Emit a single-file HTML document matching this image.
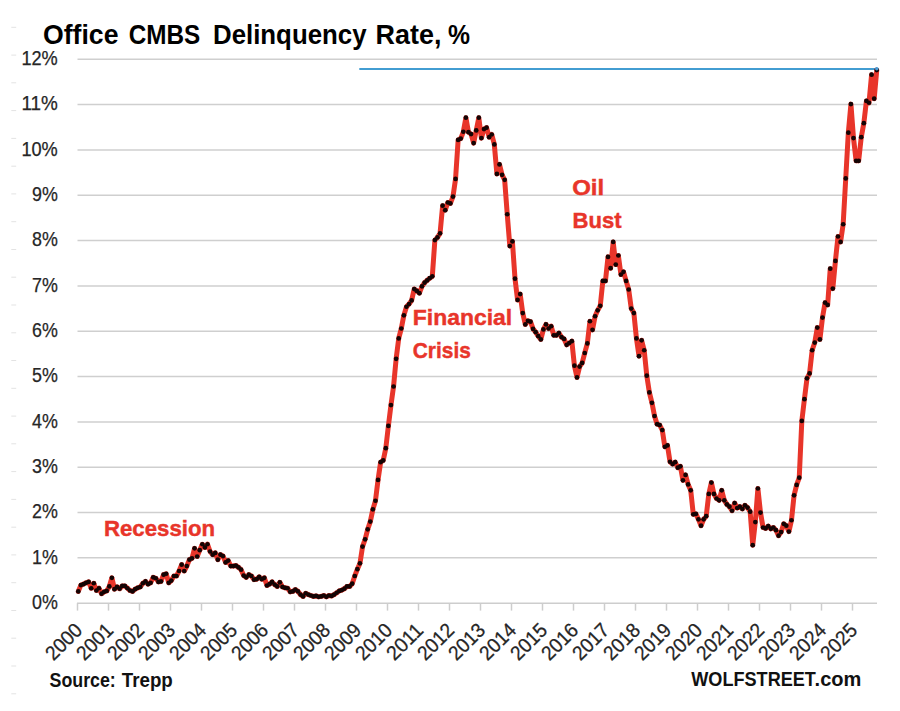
<!DOCTYPE html>
<html><head><meta charset="utf-8"><title>Office CMBS Delinquency Rate</title>
<style>
html,body{margin:0;padding:0;background:#fff;}
body{width:900px;height:711px;overflow:hidden;font-family:"Liberation Sans",sans-serif;}
svg{display:block;}
text{font-family:"Liberation Sans",sans-serif;}
.b{font-weight:bold;}
</style></head><body>
<svg width="900" height="711" viewBox="0 0 900 711">
<rect x="0" y="0" width="900" height="711" fill="#ffffff"/>

<g stroke="#e3e3e3" stroke-width="1">
<line x1="11.3" y1="27.3" x2="16.2" y2="27.3"/>
<line x1="11.3" y1="55.1" x2="16.2" y2="55.1"/>
<line x1="11.3" y1="82.8" x2="16.2" y2="82.8"/>
<line x1="11.3" y1="110.6" x2="16.2" y2="110.6"/>
<line x1="11.3" y1="138.4" x2="16.2" y2="138.4"/>
<line x1="11.3" y1="166.2" x2="16.2" y2="166.2"/>
<line x1="11.3" y1="193.9" x2="16.2" y2="193.9"/>
<line x1="11.3" y1="221.7" x2="16.2" y2="221.7"/>
<line x1="11.3" y1="249.5" x2="16.2" y2="249.5"/>
<line x1="11.3" y1="277.2" x2="16.2" y2="277.2"/>
<line x1="11.3" y1="305.0" x2="16.2" y2="305.0"/>
<line x1="11.3" y1="332.8" x2="16.2" y2="332.8"/>
<line x1="11.3" y1="360.5" x2="16.2" y2="360.5"/>
<line x1="11.3" y1="388.3" x2="16.2" y2="388.3"/>
<line x1="11.3" y1="416.1" x2="16.2" y2="416.1"/>
<line x1="11.3" y1="443.8" x2="16.2" y2="443.8"/>
<line x1="11.3" y1="471.6" x2="16.2" y2="471.6"/>
<line x1="11.3" y1="499.4" x2="16.2" y2="499.4"/>
<line x1="11.3" y1="527.2" x2="16.2" y2="527.2"/>
<line x1="11.3" y1="554.9" x2="16.2" y2="554.9"/>
<line x1="11.3" y1="582.7" x2="16.2" y2="582.7"/>
<line x1="11.3" y1="610.5" x2="16.2" y2="610.5"/>
<line x1="11.3" y1="638.2" x2="16.2" y2="638.2"/>
<line x1="11.3" y1="666.0" x2="16.2" y2="666.0"/>
<line x1="11.3" y1="693.8" x2="16.2" y2="693.8"/>
</g>
<g stroke="#cfcfcf" stroke-width="1.5">
<line x1="77.5" y1="557.87" x2="877" y2="557.87"/>
<line x1="77.5" y1="512.54" x2="877" y2="512.54"/>
<line x1="77.5" y1="467.21" x2="877" y2="467.21"/>
<line x1="77.5" y1="421.88" x2="877" y2="421.88"/>
<line x1="77.5" y1="376.55" x2="877" y2="376.55"/>
<line x1="77.5" y1="331.22" x2="877" y2="331.22"/>
<line x1="77.5" y1="285.89" x2="877" y2="285.89"/>
<line x1="77.5" y1="240.56" x2="877" y2="240.56"/>
<line x1="77.5" y1="195.23" x2="877" y2="195.23"/>
<line x1="77.5" y1="149.90" x2="877" y2="149.90"/>
<line x1="77.5" y1="104.57" x2="877" y2="104.57"/>
<line x1="77.5" y1="59.24" x2="877" y2="59.24"/>
</g>
<g stroke="#cdcdcd" stroke-width="1.5">
<line x1="77" y1="603.20" x2="877" y2="603.20"/>
<line x1="77.5" y1="603.20" x2="77.5" y2="610.6"/>
<line x1="108.5" y1="603.20" x2="108.5" y2="610.6"/>
<line x1="139.5" y1="603.20" x2="139.5" y2="610.6"/>
<line x1="170.5" y1="603.20" x2="170.5" y2="610.6"/>
<line x1="201.5" y1="603.20" x2="201.5" y2="610.6"/>
<line x1="232.5" y1="603.20" x2="232.5" y2="610.6"/>
<line x1="263.5" y1="603.20" x2="263.5" y2="610.6"/>
<line x1="294.5" y1="603.20" x2="294.5" y2="610.6"/>
<line x1="325.5" y1="603.20" x2="325.5" y2="610.6"/>
<line x1="356.5" y1="603.20" x2="356.5" y2="610.6"/>
<line x1="387.5" y1="603.20" x2="387.5" y2="610.6"/>
<line x1="418.5" y1="603.20" x2="418.5" y2="610.6"/>
<line x1="449.5" y1="603.20" x2="449.5" y2="610.6"/>
<line x1="480.5" y1="603.20" x2="480.5" y2="610.6"/>
<line x1="511.5" y1="603.20" x2="511.5" y2="610.6"/>
<line x1="542.5" y1="603.20" x2="542.5" y2="610.6"/>
<line x1="573.5" y1="603.20" x2="573.5" y2="610.6"/>
<line x1="604.5" y1="603.20" x2="604.5" y2="610.6"/>
<line x1="635.5" y1="603.20" x2="635.5" y2="610.6"/>
<line x1="666.5" y1="603.20" x2="666.5" y2="610.6"/>
<line x1="697.5" y1="603.20" x2="697.5" y2="610.6"/>
<line x1="728.5" y1="603.20" x2="728.5" y2="610.6"/>
<line x1="759.5" y1="603.20" x2="759.5" y2="610.6"/>
<line x1="790.5" y1="603.20" x2="790.5" y2="610.6"/>
<line x1="821.5" y1="603.20" x2="821.5" y2="610.6"/>
<line x1="852.5" y1="603.20" x2="852.5" y2="610.6"/>
</g>
<g fill="#262626" font-size="19.6" text-anchor="end" stroke="#262626" stroke-width="0.25">
<text x="57.8" y="608.90" textLength="25.8" lengthAdjust="spacingAndGlyphs">0%</text>
<text x="57.8" y="563.57" textLength="25.8" lengthAdjust="spacingAndGlyphs">1%</text>
<text x="57.8" y="518.24" textLength="25.8" lengthAdjust="spacingAndGlyphs">2%</text>
<text x="57.8" y="472.91" textLength="25.8" lengthAdjust="spacingAndGlyphs">3%</text>
<text x="57.8" y="427.58" textLength="25.8" lengthAdjust="spacingAndGlyphs">4%</text>
<text x="57.8" y="382.25" textLength="25.8" lengthAdjust="spacingAndGlyphs">5%</text>
<text x="57.8" y="336.92" textLength="25.8" lengthAdjust="spacingAndGlyphs">6%</text>
<text x="57.8" y="291.59" textLength="25.8" lengthAdjust="spacingAndGlyphs">7%</text>
<text x="57.8" y="246.26" textLength="25.8" lengthAdjust="spacingAndGlyphs">8%</text>
<text x="57.8" y="200.93" textLength="25.8" lengthAdjust="spacingAndGlyphs">9%</text>
<text x="57.8" y="155.60" textLength="36.4" lengthAdjust="spacingAndGlyphs">10%</text>
<text x="57.8" y="110.27" textLength="36.4" lengthAdjust="spacingAndGlyphs">11%</text>
<text x="57.8" y="64.94" textLength="36.4" lengthAdjust="spacingAndGlyphs">12%</text>
</g>
<g fill="#262626" font-size="20.2" text-anchor="end" stroke="#262626" stroke-width="0.25">
<text transform="translate(83.6,631.4) rotate(-45)" x="0" y="0" textLength="42.5" lengthAdjust="spacingAndGlyphs">2000</text>
<text transform="translate(114.6,631.4) rotate(-45)" x="0" y="0" textLength="42.5" lengthAdjust="spacingAndGlyphs">2001</text>
<text transform="translate(145.6,631.4) rotate(-45)" x="0" y="0" textLength="42.5" lengthAdjust="spacingAndGlyphs">2002</text>
<text transform="translate(176.6,631.4) rotate(-45)" x="0" y="0" textLength="42.5" lengthAdjust="spacingAndGlyphs">2003</text>
<text transform="translate(207.6,631.4) rotate(-45)" x="0" y="0" textLength="42.5" lengthAdjust="spacingAndGlyphs">2004</text>
<text transform="translate(238.6,631.4) rotate(-45)" x="0" y="0" textLength="42.5" lengthAdjust="spacingAndGlyphs">2005</text>
<text transform="translate(269.6,631.4) rotate(-45)" x="0" y="0" textLength="42.5" lengthAdjust="spacingAndGlyphs">2006</text>
<text transform="translate(300.6,631.4) rotate(-45)" x="0" y="0" textLength="42.5" lengthAdjust="spacingAndGlyphs">2007</text>
<text transform="translate(331.6,631.4) rotate(-45)" x="0" y="0" textLength="42.5" lengthAdjust="spacingAndGlyphs">2008</text>
<text transform="translate(362.6,631.4) rotate(-45)" x="0" y="0" textLength="42.5" lengthAdjust="spacingAndGlyphs">2009</text>
<text transform="translate(393.6,631.4) rotate(-45)" x="0" y="0" textLength="42.5" lengthAdjust="spacingAndGlyphs">2010</text>
<text transform="translate(424.6,631.4) rotate(-45)" x="0" y="0" textLength="42.5" lengthAdjust="spacingAndGlyphs">2011</text>
<text transform="translate(455.6,631.4) rotate(-45)" x="0" y="0" textLength="42.5" lengthAdjust="spacingAndGlyphs">2012</text>
<text transform="translate(486.6,631.4) rotate(-45)" x="0" y="0" textLength="42.5" lengthAdjust="spacingAndGlyphs">2013</text>
<text transform="translate(517.6,631.4) rotate(-45)" x="0" y="0" textLength="42.5" lengthAdjust="spacingAndGlyphs">2014</text>
<text transform="translate(548.6,631.4) rotate(-45)" x="0" y="0" textLength="42.5" lengthAdjust="spacingAndGlyphs">2015</text>
<text transform="translate(579.6,631.4) rotate(-45)" x="0" y="0" textLength="42.5" lengthAdjust="spacingAndGlyphs">2016</text>
<text transform="translate(610.6,631.4) rotate(-45)" x="0" y="0" textLength="42.5" lengthAdjust="spacingAndGlyphs">2017</text>
<text transform="translate(641.6,631.4) rotate(-45)" x="0" y="0" textLength="42.5" lengthAdjust="spacingAndGlyphs">2018</text>
<text transform="translate(672.6,631.4) rotate(-45)" x="0" y="0" textLength="42.5" lengthAdjust="spacingAndGlyphs">2019</text>
<text transform="translate(703.6,631.4) rotate(-45)" x="0" y="0" textLength="42.5" lengthAdjust="spacingAndGlyphs">2020</text>
<text transform="translate(734.6,631.4) rotate(-45)" x="0" y="0" textLength="42.5" lengthAdjust="spacingAndGlyphs">2021</text>
<text transform="translate(765.6,631.4) rotate(-45)" x="0" y="0" textLength="42.5" lengthAdjust="spacingAndGlyphs">2022</text>
<text transform="translate(796.6,631.4) rotate(-45)" x="0" y="0" textLength="42.5" lengthAdjust="spacingAndGlyphs">2023</text>
<text transform="translate(827.6,631.4) rotate(-45)" x="0" y="0" textLength="42.5" lengthAdjust="spacingAndGlyphs">2024</text>
<text transform="translate(858.6,631.4) rotate(-45)" x="0" y="0" textLength="42.5" lengthAdjust="spacingAndGlyphs">2025</text>
</g>
<line x1="359.3" y1="69.0" x2="877" y2="69.0" stroke="#429dd2" stroke-width="2.2"/>
<polyline points="78.30,591.41 80.88,585.07 83.47,584.16 86.05,582.80 88.64,581.89 91.22,588.24 93.80,583.25 96.39,590.51 98.97,588.24 101.56,593.68 104.14,591.87 106.72,590.96 109.31,586.43 111.89,577.82 114.48,589.15 117.06,586.88 119.64,588.69 122.23,585.97 124.81,585.97 127.40,588.24 129.98,590.51 132.56,591.41 135.15,589.15 137.73,587.79 140.32,586.88 142.90,583.25 145.48,581.44 148.07,584.16 150.65,582.80 153.24,577.36 155.82,578.27 158.40,581.89 160.99,581.44 163.57,574.64 166.16,573.74 168.74,582.80 171.32,580.54 173.91,576.00 176.49,576.00 179.08,571.02 181.66,564.67 184.24,571.02 186.83,566.03 189.41,559.68 192.00,558.32 194.58,548.35 197.16,556.51 199.75,550.16 202.33,544.27 204.92,547.44 207.50,544.27 210.08,551.52 212.67,554.70 215.25,552.88 217.84,559.68 220.42,554.70 223.00,556.06 225.59,562.40 228.17,560.59 230.76,566.03 233.34,566.03 235.92,565.58 238.51,567.39 241.09,569.66 243.68,575.55 246.26,577.36 248.84,574.64 251.43,576.00 254.01,579.63 256.60,579.18 259.18,576.91 261.76,579.18 264.35,577.82 266.93,585.52 269.52,584.16 272.10,581.89 274.68,584.61 277.27,586.43 279.85,582.35 282.44,586.88 285.02,587.79 287.60,588.24 290.19,591.87 292.77,591.41 295.36,589.60 297.94,591.41 300.52,594.59 303.11,596.40 305.69,593.23 308.28,594.59 310.86,595.49 313.44,596.40 316.03,595.95 318.61,596.85 321.20,596.40 323.78,595.49 326.36,596.85 328.95,595.49 331.53,595.95 334.12,594.59 336.70,592.77 339.28,590.96 341.87,590.05 344.45,588.69 347.04,586.43 349.62,586.43 352.20,583.71 354.79,576.00 357.37,569.20 359.96,563.31 362.54,546.54 365.12,539.28 367.71,529.31 370.29,521.61 372.88,509.37 375.46,500.75 378.04,479.90 380.63,462.22 383.21,460.41 385.80,448.17 388.38,425.96 390.96,405.11 393.55,386.52 396.13,358.87 398.72,338.47 401.30,328.50 403.88,315.35 406.47,306.74 409.05,304.02 411.64,300.40 414.22,289.06 416.80,290.88 419.39,293.14 421.97,286.34 424.56,282.72 427.14,280.45 429.72,278.18 432.31,276.37 434.89,240.11 437.48,237.39 440.06,233.31 442.64,205.66 445.23,210.19 447.81,202.48 450.40,203.39 452.98,196.59 455.56,178.91 458.15,139.93 460.73,138.57 463.32,131.77 465.90,117.72 468.48,132.22 471.07,134.03 473.65,143.10 476.24,130.41 478.82,117.72 481.40,138.11 483.99,129.05 486.57,127.69 489.16,137.21 491.74,134.49 494.32,144.46 496.91,173.92 499.49,164.41 502.08,174.83 504.66,179.82 507.24,214.27 509.83,246.00 512.41,241.47 515.00,278.64 517.58,299.94 520.16,294.05 522.75,313.09 525.33,324.42 527.92,320.79 530.50,321.70 533.08,328.95 535.67,332.13 538.25,336.21 540.84,339.38 543.42,329.41 546.00,324.42 548.59,328.50 551.17,326.23 553.76,335.30 556.34,335.30 558.92,333.03 561.51,337.11 564.09,338.93 566.68,344.82 569.26,343.01 571.84,341.19 574.43,365.67 577.01,377.46 579.60,366.58 582.18,362.95 584.76,352.98 587.35,343.46 589.93,321.25 592.52,329.86 595.10,316.26 597.68,310.37 600.27,305.84 602.85,280.90 605.44,280.90 608.02,256.88 610.60,268.21 613.19,241.92 615.77,264.58 618.36,255.52 620.94,274.56 623.52,271.84 626.11,280.90 628.69,289.52 631.28,308.56 633.86,313.09 636.44,338.47 639.03,356.15 641.61,340.29 644.20,350.26 646.78,375.64 649.36,392.42 651.95,402.84 654.53,415.99 657.12,424.15 659.70,425.05 662.28,430.04 664.87,446.81 667.45,445.45 670.04,461.77 672.62,464.04 675.20,462.22 677.79,467.66 680.37,466.30 682.96,480.36 685.54,474.92 688.12,484.44 690.71,490.33 693.29,514.35 695.88,513.90 698.46,519.34 701.04,525.69 703.63,519.34 706.21,516.17 708.80,493.95 711.38,482.62 713.96,493.95 716.55,498.49 719.13,500.30 721.72,490.33 724.30,500.30 726.88,504.38 729.47,506.65 732.05,510.73 734.64,503.02 737.22,508.01 739.80,506.65 742.39,508.91 744.97,505.29 747.56,507.55 750.14,511.63 752.72,545.18 755.31,522.06 757.89,488.52 760.48,512.54 763.06,527.50 765.64,528.41 768.23,526.14 770.81,528.86 773.40,527.50 775.98,530.22 778.56,535.66 781.15,532.03 783.73,523.87 786.32,525.69 788.90,531.58 791.48,520.25 794.07,495.31 796.65,484.89 799.24,477.64 801.82,420.97 804.40,399.22 806.99,378.36 809.57,373.38 812.16,350.26 814.74,342.55 817.32,327.59 819.91,339.38 822.49,317.62 825.08,302.66 827.66,304.93 830.24,268.66 832.83,288.61 835.41,260.96 838.00,236.48 840.58,241.92 843.16,224.24 845.75,178.46 848.33,132.67 850.92,104.12 853.50,138.11 856.08,160.78 858.67,160.78 861.25,137.21 863.84,123.16 866.42,100.94 869.00,102.76 871.59,74.65 874.17,98.68 876.76,70.12" fill="none" stroke="#e8352a" stroke-width="5" stroke-linejoin="round" stroke-linecap="round"/>
<g fill="#140404">
<circle cx="78.30" cy="591.41" r="2.35"/>
<circle cx="80.88" cy="585.07" r="2.35"/>
<circle cx="83.47" cy="584.16" r="2.35"/>
<circle cx="86.05" cy="582.80" r="2.35"/>
<circle cx="88.64" cy="581.89" r="2.35"/>
<circle cx="91.22" cy="588.24" r="2.35"/>
<circle cx="93.80" cy="583.25" r="2.35"/>
<circle cx="96.39" cy="590.51" r="2.35"/>
<circle cx="98.97" cy="588.24" r="2.35"/>
<circle cx="101.56" cy="593.68" r="2.35"/>
<circle cx="104.14" cy="591.87" r="2.35"/>
<circle cx="106.72" cy="590.96" r="2.35"/>
<circle cx="109.31" cy="586.43" r="2.35"/>
<circle cx="111.89" cy="577.82" r="2.35"/>
<circle cx="114.48" cy="589.15" r="2.35"/>
<circle cx="117.06" cy="586.88" r="2.35"/>
<circle cx="119.64" cy="588.69" r="2.35"/>
<circle cx="122.23" cy="585.97" r="2.35"/>
<circle cx="124.81" cy="585.97" r="2.35"/>
<circle cx="127.40" cy="588.24" r="2.35"/>
<circle cx="129.98" cy="590.51" r="2.35"/>
<circle cx="132.56" cy="591.41" r="2.35"/>
<circle cx="135.15" cy="589.15" r="2.35"/>
<circle cx="137.73" cy="587.79" r="2.35"/>
<circle cx="140.32" cy="586.88" r="2.35"/>
<circle cx="142.90" cy="583.25" r="2.35"/>
<circle cx="145.48" cy="581.44" r="2.35"/>
<circle cx="148.07" cy="584.16" r="2.35"/>
<circle cx="150.65" cy="582.80" r="2.35"/>
<circle cx="153.24" cy="577.36" r="2.35"/>
<circle cx="155.82" cy="578.27" r="2.35"/>
<circle cx="158.40" cy="581.89" r="2.35"/>
<circle cx="160.99" cy="581.44" r="2.35"/>
<circle cx="163.57" cy="574.64" r="2.35"/>
<circle cx="166.16" cy="573.74" r="2.35"/>
<circle cx="168.74" cy="582.80" r="2.35"/>
<circle cx="171.32" cy="580.54" r="2.35"/>
<circle cx="173.91" cy="576.00" r="2.35"/>
<circle cx="176.49" cy="576.00" r="2.35"/>
<circle cx="179.08" cy="571.02" r="2.35"/>
<circle cx="181.66" cy="564.67" r="2.35"/>
<circle cx="184.24" cy="571.02" r="2.35"/>
<circle cx="186.83" cy="566.03" r="2.35"/>
<circle cx="189.41" cy="559.68" r="2.35"/>
<circle cx="192.00" cy="558.32" r="2.35"/>
<circle cx="194.58" cy="548.35" r="2.35"/>
<circle cx="197.16" cy="556.51" r="2.35"/>
<circle cx="199.75" cy="550.16" r="2.35"/>
<circle cx="202.33" cy="544.27" r="2.35"/>
<circle cx="204.92" cy="547.44" r="2.35"/>
<circle cx="207.50" cy="544.27" r="2.35"/>
<circle cx="210.08" cy="551.52" r="2.35"/>
<circle cx="212.67" cy="554.70" r="2.35"/>
<circle cx="215.25" cy="552.88" r="2.35"/>
<circle cx="217.84" cy="559.68" r="2.35"/>
<circle cx="220.42" cy="554.70" r="2.35"/>
<circle cx="223.00" cy="556.06" r="2.35"/>
<circle cx="225.59" cy="562.40" r="2.35"/>
<circle cx="228.17" cy="560.59" r="2.35"/>
<circle cx="230.76" cy="566.03" r="2.35"/>
<circle cx="233.34" cy="566.03" r="2.35"/>
<circle cx="235.92" cy="565.58" r="2.35"/>
<circle cx="238.51" cy="567.39" r="2.35"/>
<circle cx="241.09" cy="569.66" r="2.35"/>
<circle cx="243.68" cy="575.55" r="2.35"/>
<circle cx="246.26" cy="577.36" r="2.35"/>
<circle cx="248.84" cy="574.64" r="2.35"/>
<circle cx="251.43" cy="576.00" r="2.35"/>
<circle cx="254.01" cy="579.63" r="2.35"/>
<circle cx="256.60" cy="579.18" r="2.35"/>
<circle cx="259.18" cy="576.91" r="2.35"/>
<circle cx="261.76" cy="579.18" r="2.35"/>
<circle cx="264.35" cy="577.82" r="2.35"/>
<circle cx="266.93" cy="585.52" r="2.35"/>
<circle cx="269.52" cy="584.16" r="2.35"/>
<circle cx="272.10" cy="581.89" r="2.35"/>
<circle cx="274.68" cy="584.61" r="2.35"/>
<circle cx="277.27" cy="586.43" r="2.35"/>
<circle cx="279.85" cy="582.35" r="2.35"/>
<circle cx="282.44" cy="586.88" r="2.35"/>
<circle cx="285.02" cy="587.79" r="2.35"/>
<circle cx="287.60" cy="588.24" r="2.35"/>
<circle cx="290.19" cy="591.87" r="2.35"/>
<circle cx="292.77" cy="591.41" r="2.35"/>
<circle cx="295.36" cy="589.60" r="2.35"/>
<circle cx="297.94" cy="591.41" r="2.35"/>
<circle cx="300.52" cy="594.59" r="2.35"/>
<circle cx="303.11" cy="596.40" r="2.35"/>
<circle cx="305.69" cy="593.23" r="2.35"/>
<circle cx="308.28" cy="594.59" r="2.35"/>
<circle cx="310.86" cy="595.49" r="2.35"/>
<circle cx="313.44" cy="596.40" r="2.35"/>
<circle cx="316.03" cy="595.95" r="2.35"/>
<circle cx="318.61" cy="596.85" r="2.35"/>
<circle cx="321.20" cy="596.40" r="2.35"/>
<circle cx="323.78" cy="595.49" r="2.35"/>
<circle cx="326.36" cy="596.85" r="2.35"/>
<circle cx="328.95" cy="595.49" r="2.35"/>
<circle cx="331.53" cy="595.95" r="2.35"/>
<circle cx="334.12" cy="594.59" r="2.35"/>
<circle cx="336.70" cy="592.77" r="2.35"/>
<circle cx="339.28" cy="590.96" r="2.35"/>
<circle cx="341.87" cy="590.05" r="2.35"/>
<circle cx="344.45" cy="588.69" r="2.35"/>
<circle cx="347.04" cy="586.43" r="2.35"/>
<circle cx="349.62" cy="586.43" r="2.35"/>
<circle cx="352.20" cy="583.71" r="2.35"/>
<circle cx="354.79" cy="576.00" r="2.35"/>
<circle cx="357.37" cy="569.20" r="2.35"/>
<circle cx="359.96" cy="563.31" r="2.35"/>
<circle cx="362.54" cy="546.54" r="2.35"/>
<circle cx="365.12" cy="539.28" r="2.35"/>
<circle cx="367.71" cy="529.31" r="2.35"/>
<circle cx="370.29" cy="521.61" r="2.35"/>
<circle cx="372.88" cy="509.37" r="2.35"/>
<circle cx="375.46" cy="500.75" r="2.35"/>
<circle cx="378.04" cy="479.90" r="2.35"/>
<circle cx="380.63" cy="462.22" r="2.35"/>
<circle cx="383.21" cy="460.41" r="2.35"/>
<circle cx="385.80" cy="448.17" r="2.35"/>
<circle cx="388.38" cy="425.96" r="2.35"/>
<circle cx="390.96" cy="405.11" r="2.35"/>
<circle cx="393.55" cy="386.52" r="2.35"/>
<circle cx="396.13" cy="358.87" r="2.35"/>
<circle cx="398.72" cy="338.47" r="2.35"/>
<circle cx="401.30" cy="328.50" r="2.35"/>
<circle cx="403.88" cy="315.35" r="2.35"/>
<circle cx="406.47" cy="306.74" r="2.35"/>
<circle cx="409.05" cy="304.02" r="2.35"/>
<circle cx="411.64" cy="300.40" r="2.35"/>
<circle cx="414.22" cy="289.06" r="2.35"/>
<circle cx="416.80" cy="290.88" r="2.35"/>
<circle cx="419.39" cy="293.14" r="2.35"/>
<circle cx="421.97" cy="286.34" r="2.35"/>
<circle cx="424.56" cy="282.72" r="2.35"/>
<circle cx="427.14" cy="280.45" r="2.35"/>
<circle cx="429.72" cy="278.18" r="2.35"/>
<circle cx="432.31" cy="276.37" r="2.35"/>
<circle cx="434.89" cy="240.11" r="2.35"/>
<circle cx="437.48" cy="237.39" r="2.35"/>
<circle cx="440.06" cy="233.31" r="2.35"/>
<circle cx="442.64" cy="205.66" r="2.35"/>
<circle cx="445.23" cy="210.19" r="2.35"/>
<circle cx="447.81" cy="202.48" r="2.35"/>
<circle cx="450.40" cy="203.39" r="2.35"/>
<circle cx="452.98" cy="196.59" r="2.35"/>
<circle cx="455.56" cy="178.91" r="2.35"/>
<circle cx="458.15" cy="139.93" r="2.35"/>
<circle cx="460.73" cy="138.57" r="2.35"/>
<circle cx="463.32" cy="131.77" r="2.35"/>
<circle cx="465.90" cy="117.72" r="2.35"/>
<circle cx="468.48" cy="132.22" r="2.35"/>
<circle cx="471.07" cy="134.03" r="2.35"/>
<circle cx="473.65" cy="143.10" r="2.35"/>
<circle cx="476.24" cy="130.41" r="2.35"/>
<circle cx="478.82" cy="117.72" r="2.35"/>
<circle cx="481.40" cy="138.11" r="2.35"/>
<circle cx="483.99" cy="129.05" r="2.35"/>
<circle cx="486.57" cy="127.69" r="2.35"/>
<circle cx="489.16" cy="137.21" r="2.35"/>
<circle cx="491.74" cy="134.49" r="2.35"/>
<circle cx="494.32" cy="144.46" r="2.35"/>
<circle cx="496.91" cy="173.92" r="2.35"/>
<circle cx="499.49" cy="164.41" r="2.35"/>
<circle cx="502.08" cy="174.83" r="2.35"/>
<circle cx="504.66" cy="179.82" r="2.35"/>
<circle cx="507.24" cy="214.27" r="2.35"/>
<circle cx="509.83" cy="246.00" r="2.35"/>
<circle cx="512.41" cy="241.47" r="2.35"/>
<circle cx="515.00" cy="278.64" r="2.35"/>
<circle cx="517.58" cy="299.94" r="2.35"/>
<circle cx="520.16" cy="294.05" r="2.35"/>
<circle cx="522.75" cy="313.09" r="2.35"/>
<circle cx="525.33" cy="324.42" r="2.35"/>
<circle cx="527.92" cy="320.79" r="2.35"/>
<circle cx="530.50" cy="321.70" r="2.35"/>
<circle cx="533.08" cy="328.95" r="2.35"/>
<circle cx="535.67" cy="332.13" r="2.35"/>
<circle cx="538.25" cy="336.21" r="2.35"/>
<circle cx="540.84" cy="339.38" r="2.35"/>
<circle cx="543.42" cy="329.41" r="2.35"/>
<circle cx="546.00" cy="324.42" r="2.35"/>
<circle cx="548.59" cy="328.50" r="2.35"/>
<circle cx="551.17" cy="326.23" r="2.35"/>
<circle cx="553.76" cy="335.30" r="2.35"/>
<circle cx="556.34" cy="335.30" r="2.35"/>
<circle cx="558.92" cy="333.03" r="2.35"/>
<circle cx="561.51" cy="337.11" r="2.35"/>
<circle cx="564.09" cy="338.93" r="2.35"/>
<circle cx="566.68" cy="344.82" r="2.35"/>
<circle cx="569.26" cy="343.01" r="2.35"/>
<circle cx="571.84" cy="341.19" r="2.35"/>
<circle cx="574.43" cy="365.67" r="2.35"/>
<circle cx="577.01" cy="377.46" r="2.35"/>
<circle cx="579.60" cy="366.58" r="2.35"/>
<circle cx="582.18" cy="362.95" r="2.35"/>
<circle cx="584.76" cy="352.98" r="2.35"/>
<circle cx="587.35" cy="343.46" r="2.35"/>
<circle cx="589.93" cy="321.25" r="2.35"/>
<circle cx="592.52" cy="329.86" r="2.35"/>
<circle cx="595.10" cy="316.26" r="2.35"/>
<circle cx="597.68" cy="310.37" r="2.35"/>
<circle cx="600.27" cy="305.84" r="2.35"/>
<circle cx="602.85" cy="280.90" r="2.35"/>
<circle cx="605.44" cy="280.90" r="2.35"/>
<circle cx="608.02" cy="256.88" r="2.35"/>
<circle cx="610.60" cy="268.21" r="2.35"/>
<circle cx="613.19" cy="241.92" r="2.35"/>
<circle cx="615.77" cy="264.58" r="2.35"/>
<circle cx="618.36" cy="255.52" r="2.35"/>
<circle cx="620.94" cy="274.56" r="2.35"/>
<circle cx="623.52" cy="271.84" r="2.35"/>
<circle cx="626.11" cy="280.90" r="2.35"/>
<circle cx="628.69" cy="289.52" r="2.35"/>
<circle cx="631.28" cy="308.56" r="2.35"/>
<circle cx="633.86" cy="313.09" r="2.35"/>
<circle cx="636.44" cy="338.47" r="2.35"/>
<circle cx="639.03" cy="356.15" r="2.35"/>
<circle cx="641.61" cy="340.29" r="2.35"/>
<circle cx="644.20" cy="350.26" r="2.35"/>
<circle cx="646.78" cy="375.64" r="2.35"/>
<circle cx="649.36" cy="392.42" r="2.35"/>
<circle cx="651.95" cy="402.84" r="2.35"/>
<circle cx="654.53" cy="415.99" r="2.35"/>
<circle cx="657.12" cy="424.15" r="2.35"/>
<circle cx="659.70" cy="425.05" r="2.35"/>
<circle cx="662.28" cy="430.04" r="2.35"/>
<circle cx="664.87" cy="446.81" r="2.35"/>
<circle cx="667.45" cy="445.45" r="2.35"/>
<circle cx="670.04" cy="461.77" r="2.35"/>
<circle cx="672.62" cy="464.04" r="2.35"/>
<circle cx="675.20" cy="462.22" r="2.35"/>
<circle cx="677.79" cy="467.66" r="2.35"/>
<circle cx="680.37" cy="466.30" r="2.35"/>
<circle cx="682.96" cy="480.36" r="2.35"/>
<circle cx="685.54" cy="474.92" r="2.35"/>
<circle cx="688.12" cy="484.44" r="2.35"/>
<circle cx="690.71" cy="490.33" r="2.35"/>
<circle cx="693.29" cy="514.35" r="2.35"/>
<circle cx="695.88" cy="513.90" r="2.35"/>
<circle cx="698.46" cy="519.34" r="2.35"/>
<circle cx="701.04" cy="525.69" r="2.35"/>
<circle cx="703.63" cy="519.34" r="2.35"/>
<circle cx="706.21" cy="516.17" r="2.35"/>
<circle cx="708.80" cy="493.95" r="2.35"/>
<circle cx="711.38" cy="482.62" r="2.35"/>
<circle cx="713.96" cy="493.95" r="2.35"/>
<circle cx="716.55" cy="498.49" r="2.35"/>
<circle cx="719.13" cy="500.30" r="2.35"/>
<circle cx="721.72" cy="490.33" r="2.35"/>
<circle cx="724.30" cy="500.30" r="2.35"/>
<circle cx="726.88" cy="504.38" r="2.35"/>
<circle cx="729.47" cy="506.65" r="2.35"/>
<circle cx="732.05" cy="510.73" r="2.35"/>
<circle cx="734.64" cy="503.02" r="2.35"/>
<circle cx="737.22" cy="508.01" r="2.35"/>
<circle cx="739.80" cy="506.65" r="2.35"/>
<circle cx="742.39" cy="508.91" r="2.35"/>
<circle cx="744.97" cy="505.29" r="2.35"/>
<circle cx="747.56" cy="507.55" r="2.35"/>
<circle cx="750.14" cy="511.63" r="2.35"/>
<circle cx="752.72" cy="545.18" r="2.35"/>
<circle cx="755.31" cy="522.06" r="2.35"/>
<circle cx="757.89" cy="488.52" r="2.35"/>
<circle cx="760.48" cy="512.54" r="2.35"/>
<circle cx="763.06" cy="527.50" r="2.35"/>
<circle cx="765.64" cy="528.41" r="2.35"/>
<circle cx="768.23" cy="526.14" r="2.35"/>
<circle cx="770.81" cy="528.86" r="2.35"/>
<circle cx="773.40" cy="527.50" r="2.35"/>
<circle cx="775.98" cy="530.22" r="2.35"/>
<circle cx="778.56" cy="535.66" r="2.35"/>
<circle cx="781.15" cy="532.03" r="2.35"/>
<circle cx="783.73" cy="523.87" r="2.35"/>
<circle cx="786.32" cy="525.69" r="2.35"/>
<circle cx="788.90" cy="531.58" r="2.35"/>
<circle cx="791.48" cy="520.25" r="2.35"/>
<circle cx="794.07" cy="495.31" r="2.35"/>
<circle cx="796.65" cy="484.89" r="2.35"/>
<circle cx="799.24" cy="477.64" r="2.35"/>
<circle cx="801.82" cy="420.97" r="2.35"/>
<circle cx="804.40" cy="399.22" r="2.35"/>
<circle cx="806.99" cy="378.36" r="2.35"/>
<circle cx="809.57" cy="373.38" r="2.35"/>
<circle cx="812.16" cy="350.26" r="2.35"/>
<circle cx="814.74" cy="342.55" r="2.35"/>
<circle cx="817.32" cy="327.59" r="2.35"/>
<circle cx="819.91" cy="339.38" r="2.35"/>
<circle cx="822.49" cy="317.62" r="2.35"/>
<circle cx="825.08" cy="302.66" r="2.35"/>
<circle cx="827.66" cy="304.93" r="2.35"/>
<circle cx="830.24" cy="268.66" r="2.35"/>
<circle cx="832.83" cy="288.61" r="2.35"/>
<circle cx="835.41" cy="260.96" r="2.35"/>
<circle cx="838.00" cy="236.48" r="2.35"/>
<circle cx="840.58" cy="241.92" r="2.35"/>
<circle cx="843.16" cy="224.24" r="2.35"/>
<circle cx="845.75" cy="178.46" r="2.35"/>
<circle cx="848.33" cy="132.67" r="2.35"/>
<circle cx="850.92" cy="104.12" r="2.35"/>
<circle cx="853.50" cy="138.11" r="2.35"/>
<circle cx="856.08" cy="160.78" r="2.35"/>
<circle cx="858.67" cy="160.78" r="2.35"/>
<circle cx="861.25" cy="137.21" r="2.35"/>
<circle cx="863.84" cy="123.16" r="2.35"/>
<circle cx="866.42" cy="100.94" r="2.35"/>
<circle cx="869.00" cy="102.76" r="2.35"/>
<circle cx="871.59" cy="74.65" r="2.35"/>
<circle cx="874.17" cy="98.68" r="2.35"/>
<circle cx="876.76" cy="70.12" r="2.35"/>
</g>
<circle cx="876.76" cy="68.7" r="1.8" fill="#4a9bd4"/>
<text id="t1" class="b" x="43.00" y="43.70" font-size="26.9" fill="#000" textLength="75.50" lengthAdjust="spacingAndGlyphs">Office</text>
<text id="t2" class="b" x="128.80" y="43.70" font-size="26.9" fill="#000" textLength="71.50" lengthAdjust="spacingAndGlyphs">CMBS</text>
<text id="t3" class="b" x="213.00" y="43.70" font-size="26.9" fill="#000" textLength="153.50" lengthAdjust="spacingAndGlyphs">Delinquency</text>
<text id="t4" class="b" x="375.60" y="43.70" font-size="26.9" fill="#000" textLength="65.80" lengthAdjust="spacingAndGlyphs">Rate,</text>
<text id="t5" class="b" x="448.00" y="43.70" font-size="26.9" fill="#000" textLength="22.00" lengthAdjust="spacingAndGlyphs">%</text>
<text id="src" class="b" x="49.50" y="686.60" font-size="19.3" fill="#111" textLength="66.30" lengthAdjust="spacingAndGlyphs">Source:</text>
<text id="trp" class="b" x="121.80" y="686.60" font-size="19.3" fill="#111" textLength="51.00" lengthAdjust="spacingAndGlyphs">Trepp</text>
<text id="wolf" class="b" x="691.30" y="686.30" font-size="20.0" fill="#111" textLength="124.60" lengthAdjust="spacingAndGlyphs">WOLFSTREET</text>
<text id="com" class="b" x="814.60" y="686.30" font-size="20.0" fill="#111" textLength="46.80" lengthAdjust="spacingAndGlyphs">.com</text>
<text id="rec" class="b" stroke="#e8352a" stroke-width="0.45" x="104.00" y="536.00" font-size="22.6" fill="#e8352a" textLength="111.00" lengthAdjust="spacingAndGlyphs">Recession</text>
<text id="fin" class="b" stroke="#e8352a" stroke-width="0.45" x="412.80" y="325.10" font-size="22.6" fill="#e8352a" textLength="99.40" lengthAdjust="spacingAndGlyphs">Financial</text>
<text id="cri" class="b" stroke="#e8352a" stroke-width="0.45" x="412.80" y="357.60" font-size="22.6" fill="#e8352a" textLength="58.00" lengthAdjust="spacingAndGlyphs">Crisis</text>
<text id="oil" class="b" stroke="#e8352a" stroke-width="0.45" x="572.20" y="195.20" font-size="22.6" fill="#e8352a" textLength="32.00" lengthAdjust="spacingAndGlyphs">Oil</text>
<text id="bust" class="b" stroke="#e8352a" stroke-width="0.45" x="572.50" y="228.40" font-size="22.6" fill="#e8352a" textLength="49.00" lengthAdjust="spacingAndGlyphs">Bust</text>
</svg></body></html>
